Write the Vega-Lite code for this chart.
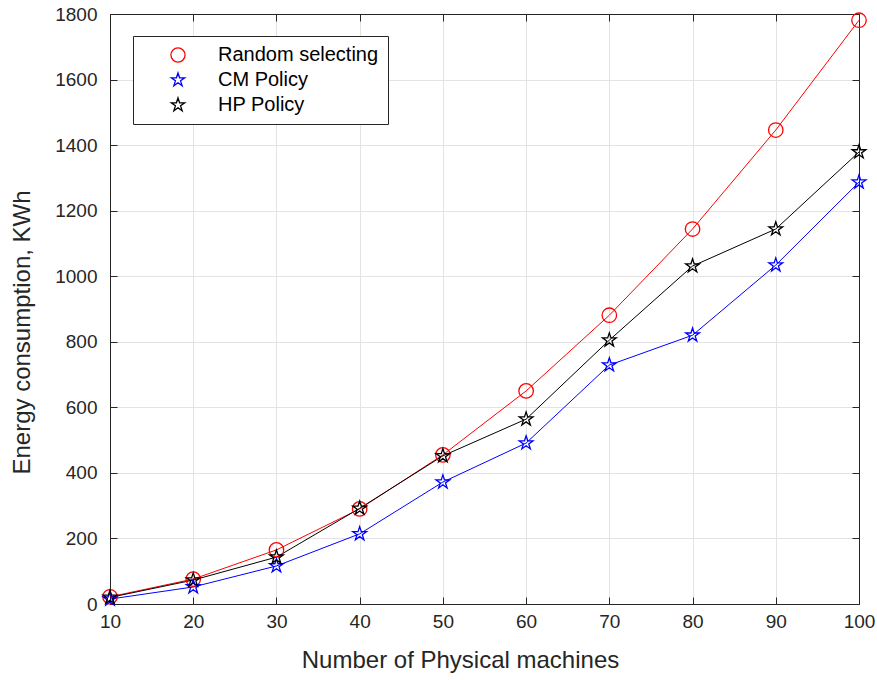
{
  "$schema": "https://vega.github.io/schema/vega-lite/v6.json",
  "width": 749,
  "height": 590,
  "autosize": "none",
  "padding": {"left": 110, "top": 14, "right": 18, "bottom": 76},
  "background": "white",
  "config": {
    "font": "Liberation Sans",
    "view": {"stroke": "#262626", "strokeWidth": 1},
    "axis": {
      "labelFont": "Liberation Sans",
      "titleFont": "Liberation Sans",
      "labelFontSize": 19,
      "titleFontSize": 24,
      "labelColor": "#262626",
      "titleColor": "#262626",
      "titleFontWeight": "normal",
      "domainColor": "#262626",
      "tickColor": "#262626",
      "gridColor": "#e3e3e3",
      "gridWidth": 1
    }
  },
  "data": {
    "values": [
      {"machines": 10, "series": "Random selecting", "energy": 22},
      {"machines": 20, "series": "Random selecting", "energy": 76},
      {"machines": 30, "series": "Random selecting", "energy": 165},
      {"machines": 40, "series": "Random selecting", "energy": 290},
      {"machines": 50, "series": "Random selecting", "energy": 455},
      {"machines": 60, "series": "Random selecting", "energy": 650},
      {"machines": 70, "series": "Random selecting", "energy": 881},
      {"machines": 80, "series": "Random selecting", "energy": 1144},
      {"machines": 90, "series": "Random selecting", "energy": 1446},
      {"machines": 100, "series": "Random selecting", "energy": 1781},
      {"machines": 10, "series": "CM Policy", "energy": 15},
      {"machines": 20, "series": "CM Policy", "energy": 52},
      {"machines": 30, "series": "CM Policy", "energy": 116},
      {"machines": 40, "series": "CM Policy", "energy": 214},
      {"machines": 50, "series": "CM Policy", "energy": 372},
      {"machines": 60, "series": "CM Policy", "energy": 491},
      {"machines": 70, "series": "CM Policy", "energy": 729},
      {"machines": 80, "series": "CM Policy", "energy": 820},
      {"machines": 90, "series": "CM Policy", "energy": 1034},
      {"machines": 100, "series": "CM Policy", "energy": 1287},
      {"machines": 10, "series": "HP Policy", "energy": 20},
      {"machines": 20, "series": "HP Policy", "energy": 73},
      {"machines": 30, "series": "HP Policy", "energy": 143},
      {"machines": 40, "series": "HP Policy", "energy": 292},
      {"machines": 50, "series": "HP Policy", "energy": 452},
      {"machines": 60, "series": "HP Policy", "energy": 564},
      {"machines": 70, "series": "HP Policy", "energy": 805},
      {"machines": 80, "series": "HP Policy", "energy": 1031},
      {"machines": 90, "series": "HP Policy", "energy": 1144},
      {"machines": 100, "series": "HP Policy", "energy": 1379}
    ]
  },
  "resolve": {"axis": {"x": "independent", "y": "independent"}},
  "layer": [
    {
      "mark": {"type": "line", "strokeWidth": 1},
      "encoding": {
        "x": {
          "field": "machines",
          "type": "quantitative",
          "scale": {"domain": [10, 100], "nice": false, "zero": false},
          "axis": {
            "orient": "bottom",
            "title": "Number of Physical machines",
            "values": [10, 20, 30, 40, 50, 60, 70, 80, 90, 100],
            "format": "d",
            "tickSize": -7,
            "labelPadding": 15,
            "labelFlush": false,
            "titleX": 350,
            "titleY": 56,
            "titleBaseline": "middle"
          }
        },
        "y": {
          "field": "energy",
          "type": "quantitative",
          "scale": {"domain": [0, 1800], "nice": false},
          "axis": {
            "orient": "left",
            "title": "Energy consumption, KWh",
            "values": [0, 200, 400, 600, 800, 1000, 1200, 1400, 1600, 1800],
            "format": "d",
            "tickSize": -7,
            "labelPadding": 20,
            "labelFlush": false,
            "titleX": -88,
            "titleY": 318,
            "titleBaseline": "middle"
          }
        },
        "color": {
          "field": "series",
          "type": "nominal",
          "scale": {
            "domain": ["Random selecting", "CM Policy", "HP Policy"],
            "range": ["#ff0000", "#0000ff", "#000000"]
          },
          "legend": {
            "title": null,
            "orient": "none",
            "legendX": 23,
            "legendY": 22,
            "strokeColor": "#262626",
            "fillColor": "white",
            "padding": 9,
            "labelFontSize": 20,
            "labelFont": "Liberation Sans",
            "labelColor": "#000000",
            "symbolSize": 200,
            "symbolStrokeWidth": 1.3,
            "symbolFillColor": "transparent",
            "rowPadding": 5,
            "labelOffset": 30,
            "symbolOffset": 26,
            "labelLimit": 300
          }
        }
      }
    },
    {
      "mark": {"type": "point", "filled": false, "size": 210, "strokeWidth": 1.3, "opacity": 1},
      "encoding": {
        "x": {
          "field": "machines",
          "type": "quantitative",
          "axis": {
            "orient": "top",
            "values": [10, 20, 30, 40, 50, 60, 70, 80, 90, 100],
            "labels": false,
            "title": null,
            "grid": false,
            "tickSize": -7
          }
        },
        "y": {
          "field": "energy",
          "type": "quantitative",
          "axis": {
            "orient": "right",
            "values": [0, 200, 400, 600, 800, 1000, 1200, 1400, 1600, 1800],
            "labels": false,
            "title": null,
            "grid": false,
            "tickSize": -7
          }
        },
        "color": {"field": "series", "type": "nominal"},
        "shape": {
          "field": "series",
          "type": "nominal",
          "scale": {
            "domain": ["Random selecting", "CM Policy", "HP Policy"],
            "range": [
              "circle",
              "M0,-1L0.2245,-0.309L0.9511,-0.309L0.3633,0.118L0.5878,0.809L0,0.382L-0.5878,0.809L-0.3633,0.118L-0.9511,-0.309L-0.2245,-0.309Z",
              "M0,-1L0.2245,-0.309L0.9511,-0.309L0.3633,0.118L0.5878,0.809L0,0.382L-0.5878,0.809L-0.3633,0.118L-0.9511,-0.309L-0.2245,-0.309Z"
            ]
          }
        }
      }
    }
  ]
}
